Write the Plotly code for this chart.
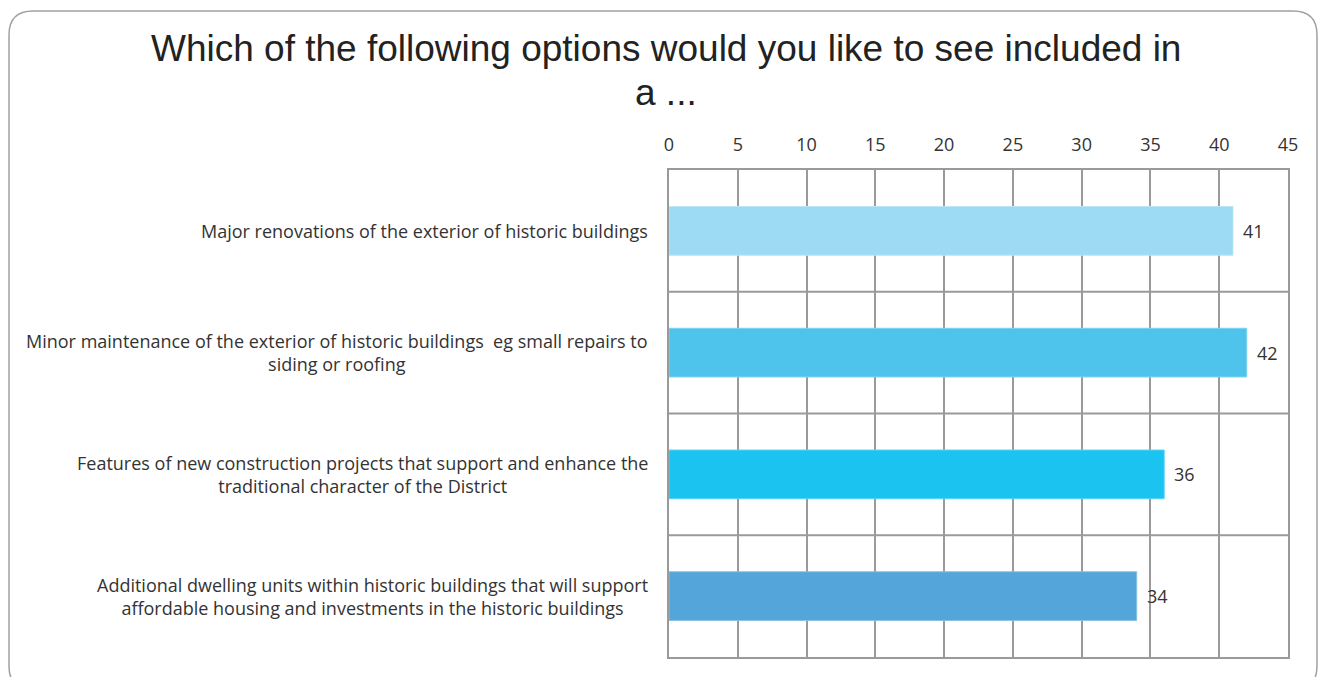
import plotly.graph_objects as go

# Survey answers (counts of respondents)
categories = [
    "Major renovations of the exterior of historic buildings",
    "Minor maintenance of the exterior of historic buildings  eg small repairs to<br>siding or roofing",
    "Features of new construction projects that support and enhance the<br>traditional character of the District",
    "Additional dwelling units within historic buildings that will support<br>affordable housing and investments in the historic buildings",
]
values = [41, 42, 36, 34]
bar_colors = ["#9DDBF5", "#4EC3EC", "#1BC3F1", "#54A5DA"]
edge_colors = ["#B8E6F8", "#7DD3F1", "#5AD3F5", "#86C0E6"]
x_ticks = [0, 5, 10, 15, 20, 25, 30, 35, 40, 45]

W, H = 1325, 677
L, R, T, B = 669, 37, 170, 20
PW, PH = W - L - R, H - T - B

def px(x):
    return (x - L) / PW

def py(y):
    return (H - B - y) / PH

positions = list(range(len(categories)))
label_font = dict(family="Open Sans", size=18, color="#333333")

fig = go.Figure(
    go.Bar(
        x=values,
        y=positions,
        orientation="h",
        width=0.4,
        marker=dict(color=bar_colors, line=dict(color=edge_colors, width=1)),
        hoverinfo="skip",
    )
)

grid = "#9A9A9A"
shapes = []
# separators between category bands
for k in range(len(categories) - 1):
    shapes.append(dict(type="line", xref="x", yref="y", x0=0, x1=45,
                       y0=k + 0.5, y1=k + 0.5, line=dict(color=grid, width=2), layer="below"))

# rounded outer frame
x0, x1, y0, y1, r = px(9), px(1317), py(11), py(690), 24
rx, ry = r / PW, r / PH
path = (f"M {x0 + rx},{y0} L {x1 - rx},{y0} Q {x1},{y0} {x1},{y0 - ry} "
        f"L {x1},{y1 + ry} Q {x1},{y1} {x1 - rx},{y1} "
        f"L {x0 + rx},{y1} Q {x0},{y1} {x0},{y1 + ry} "
        f"L {x0},{y0 - ry} Q {x0},{y0} {x0 + rx},{y0} Z")
shapes.append(dict(type="path", xref="paper", yref="paper", path=path,
                   line=dict(color="#A0A0A0", width=1.5), layer="below"))

annotations = []
for i, c in enumerate(categories):
    annotations.append(dict(text=c, x=px(650), xref="paper", y=i, yref="y",
                            xanchor="right", yanchor="middle", align="center",
                            showarrow=False, font=label_font))

# value labels just past the end of each bar
for i, v in enumerate(values):
    annotations.append(dict(text=str(v), x=v, xref="x", y=i, yref="y",
                            xanchor="left", yanchor="middle", xshift=8,
                            showarrow=False, font=label_font))

title_font = dict(family="Liberation Sans, Arial", size=37, color="#222222")
annotations.append(dict(text="Which of the following options would you like to see included in",
                        x=px(666), y=py(49), xref="paper", yref="paper",
                        xanchor="center", yanchor="middle", showarrow=False, font=title_font))
annotations.append(dict(text="a ...", x=px(666), y=py(93), xref="paper", yref="paper",
                        xanchor="center", yanchor="middle", showarrow=False, font=title_font))

fig.update_layout(
    width=W, height=H,
    margin=dict(l=L, r=R, t=T, b=B, autoexpand=False),
    paper_bgcolor="white", plot_bgcolor="white",
    showlegend=False,
    shapes=shapes,
    annotations=annotations,
    xaxis=dict(range=[0, 45], tickvals=x_ticks, side="top",
               showgrid=True, gridcolor=grid, gridwidth=2,
               showline=True, linecolor=grid, linewidth=2, mirror=True,
               zeroline=False, ticks="", ticklabelstandoff=10,
               tickfont=label_font, fixedrange=True),
    yaxis=dict(range=[3.5, -0.5], showticklabels=False, showgrid=False,
               showline=True, linecolor=grid, linewidth=2, mirror=True,
               zeroline=False, ticks="", fixedrange=True),
)

fig.write_html("out.html")
